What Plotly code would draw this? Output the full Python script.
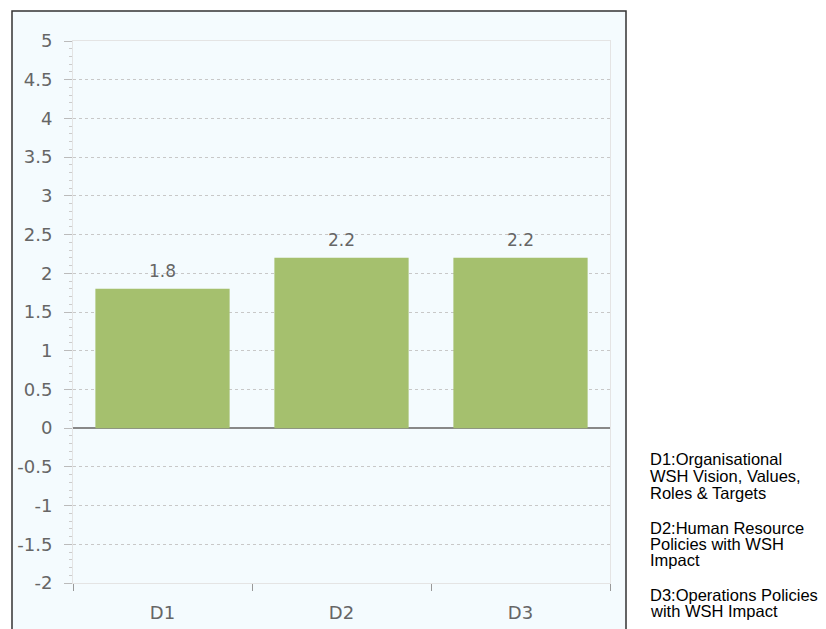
import plotly.graph_objects as go

categories = ["D1", "D2", "D3"]
values = [1.8, 2.2, 2.2]
value_labels = ["1.8", "2.2", "2.2"]
y_tick_vals = [-2, -1.5, -1, -0.5, 0, 0.5, 1, 1.5, 2, 2.5, 3, 3.5, 4, 4.5, 5]
y_tick_text = ["-2", "-1.5", "-1", "-0.5", "0", "0.5", "1", "1.5", "2", "2.5",
               "3", "3.5", "4", "4.5", "5"]
legend_lines = [
    ["D1:Organisational", "WSH Vision, Values,", "Roles & Targets"],
    ["D2:Human Resource", "Policies with WSH", "Impact"],
    ["D3:Operations Policies", "with WSH Impact"],
]

OFF = 8            # page body margin
W, H = 826 - OFF, 629 - OFF
X0, X1 = 73 - OFF, 610 - OFF   # plot area pixels (figure coords)
Y0, Y1 = 41 - OFF, 583 - OFF


def px(x):
    return (x - OFF - X0) / (X1 - X0)


def py(y):
    return (Y1 - (y - OFF)) / (Y1 - Y0)


fig = go.Figure()
fig.add_trace(go.Bar(
    x=categories, y=values,
    marker=dict(color="#a5c06e", line=dict(width=0)),
    width=0.75, hoverinfo="skip",
))
for c, v, t in zip(categories, values, value_labels):
    fig.add_annotation(x=c, y=v, text=t, showarrow=False, yanchor="bottom",
                       yshift=6,
                       font=dict(family="DejaVu Sans", size=17, color="#666666"))

# outer framed panel
fig.add_shape(type="rect", xref="paper", yref="paper",
              x0=px(12), x1=px(626), y0=py(11), y1=py(660),
              fillcolor="#f4fbfe", line=dict(color="#333333", width=1.5),
              layer="below")

grey = "#666666"
fig.update_layout(
    width=W, height=H,
    margin=dict(l=X0, r=W - X1, t=Y0, b=H - Y1, autoexpand=False),
    paper_bgcolor="white", plot_bgcolor="rgba(0,0,0,0)",
    showlegend=False,
    xaxis=dict(
        type="category", tickson="boundaries", ticks="outside", ticklen=7,
        tickcolor="#999999", showgrid=False, showline=True, linecolor="#e4e4e4",
        mirror=True, tickfont=dict(family="DejaVu Sans", size=18, color=grey),
        ticklabelstandoff=13,
        range=[-0.5, 2.5], fixedrange=True,
    ),
    yaxis=dict(
        range=[-2, 5], tickmode="array", tickvals=y_tick_vals, ticktext=y_tick_text,
        ticks="outside", ticklen=8,
        tickcolor="#bbbbbb", showline=True, linecolor="#e4e4e4", mirror=True,
        showgrid=True, gridcolor="#c8c8c8", griddash="dot", gridwidth=1,
        zeroline=True, zerolinecolor="#888888", zerolinewidth=1.5,
        tickfont=dict(family="DejaVu Sans", size=18, color=grey),
        ticklabelstandoff=8,
        minor=dict(dtick=0.1, tick0=0, ticks="outside", ticklen=3,
                   tickcolor="#cccccc", showgrid=False),
        fixedrange=True,
    ),
)

# legend text on the right
line_y = [[459, 476, 493], [528, 544, 560], [595, 611]]
for lines, ys in zip(legend_lines, line_y):
    for t, y in zip(lines, ys):
        fig.add_annotation(text=t, xref="paper", yref="paper",
                           x=px(648), y=py(y), xanchor="left", yanchor="middle",
                           showarrow=False,
                           font=dict(family="Liberation Sans", size=16.5, color="#000000"))

fig.write_html("out.html")
